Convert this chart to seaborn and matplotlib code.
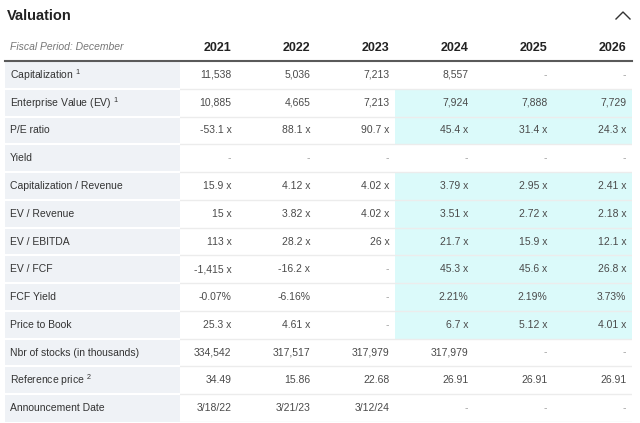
import numpy as np
import pandas as pd
import seaborn as sns
import matplotlib.pyplot as plt
from matplotlib.colors import ListedColormap
from matplotlib.lines import Line2D

# Table content
years = ["2021", "2022", "2023", "2024", "2025", "2026"]
row_labels = ["Capitalization $^{1}$", "Enterprise Value (EV) $^{1}$", "P/E ratio", "Yield",
              "Capitalization / Revenue", "EV / Revenue", "EV / EBITDA", "EV / FCF",
              "FCF Yield", "Price to Book", "Nbr of stocks (in thousands)",
              "Reference price $^{2}$", "Announcement Date"]
capitalization = ["11,538", "5,036", "7,213", "8,557", "-", "-"]
enterprise_value = ["10,885", "4,665", "7,213", "7,924", "7,888", "7,729"]
pe_ratio = ["-53.1 x", "88.1 x", "90.7 x", "45.4 x", "31.4 x", "24.3 x"]
yield_ = ["-", "-", "-", "-", "-", "-"]
cap_revenue = ["15.9 x", "4.12 x", "4.02 x", "3.79 x", "2.95 x", "2.41 x"]
ev_revenue = ["15 x", "3.82 x", "4.02 x", "3.51 x", "2.72 x", "2.18 x"]
ev_ebitda = ["113 x", "28.2 x", "26 x", "21.7 x", "15.9 x", "12.1 x"]
ev_fcf = ["-1,415 x", "-16.2 x", "-", "45.3 x", "45.6 x", "26.8 x"]
fcf_yield = ["-0.07%", "-6.16%", "-", "2.21%", "2.19%", "3.73%"]
price_to_book = ["25.3 x", "4.61 x", "-", "6.7 x", "5.12 x", "4.01 x"]
nbr_stocks = ["334,542", "317,517", "317,979", "317,979", "-", "-"]
reference_price = ["34.49", "15.86", "22.68", "26.91", "26.91", "26.91"]
announcement = ["3/18/22", "3/21/23", "3/12/24", "-", "-", "-"]
# rows with highlighted estimates, and the first estimated year
estimate_rows = [0, 1, 1, 0, 1, 1, 1, 1, 1, 1, 0, 0, 0]
first_estimate_year = "2024"

cells = pd.DataFrame([capitalization, enterprise_value, pe_ratio, yield_, cap_revenue,
                      ev_revenue, ev_ebitda, ev_fcf, fcf_yield, price_to_book,
                      nbr_stocks, reference_price, announcement],
                     index=row_labels, columns=years)
est_cols = np.array([y >= first_estimate_year for y in years])
highlight = np.outer(estimate_rows, est_cols).astype(float)

plt.rcParams['font.family'] = ['Liberation Sans', 'DejaVu Sans']
plt.rcParams['mathtext.fontset'] = 'custom'
plt.rcParams['mathtext.rm'] = 'Liberation Sans'
plt.rcParams['mathtext.default'] = 'rm'
W, H = 640, 423
fig = plt.figure(figsize=(W / 100, H / 100), dpi=100)

top_px, bot_px = 61, 422
ax = fig.add_axes([158 / W, 1 - bot_px / H, (632 - 158) / W, (bot_px - top_px) / H])
sns.heatmap(highlight, ax=ax, cmap=ListedColormap(["white", "#dbfafa"]), vmin=0, vmax=1,
            cbar=False, annot=cells.values, fmt="",
            annot_kws={"ha": "right", "color": "#4a4a4a", "fontsize": 7.5})
for t in ax.texts:
    x, y = t.get_position()
    t.set_position((x + 0.43, y))
    if t.get_text() == "-":
        t.set_color("#a0a0a0")
for i in range(1, len(row_labels) + 1):
    ax.axhline(i, color="#ececec", lw=1)
ax.set_xticks(np.arange(len(years)) + 0.93)
ax.set_xticklabels(years, ha="right", fontsize=9, fontweight="bold", color="#222222")
ax.xaxis.tick_top()
ax.tick_params(length=0, pad=5)
ax.set_yticks([])
ax.set_xlabel("")
ax.set_ylabel("")

# label column
lax = fig.add_axes([5 / W, 1 - bot_px / H, (180 - 5) / W, (bot_px - top_px) / H])
sns.heatmap(np.zeros((len(row_labels), 1)), ax=lax, cmap=ListedColormap(["#eff2f6"]),
            cbar=False, xticklabels=False, yticklabels=False)
for i, lab in enumerate(row_labels):
    lax.text(0.03, i + 0.5, lab, ha="left", va="center", fontsize=7.5, color="#333333")
for i in range(1, len(row_labels)):
    lax.axhline(i, color="white", lw=1.5)

# header line
fig.add_artist(Line2D([5 / W, 632 / W], [1 - top_px / H] * 2, color="#5a5a5a", lw=1.5))

fig.text(7 / W, 1 - 16 / H, "Valuation", fontsize=10.5, fontweight="bold",
         color="#222222", va="center")
fig.text(10 / W, 1 - 47 / H, "Fiscal Period: December", fontsize=7.5, style="italic",
         color="#777777", va="center")
fig.add_artist(Line2D([616 / W, 623 / W, 630 / W], [1 - 19 / H, 1 - 12 / H, 1 - 19 / H],
                      color="#333333", lw=1))

fig.savefig("out.png", dpi=100)
